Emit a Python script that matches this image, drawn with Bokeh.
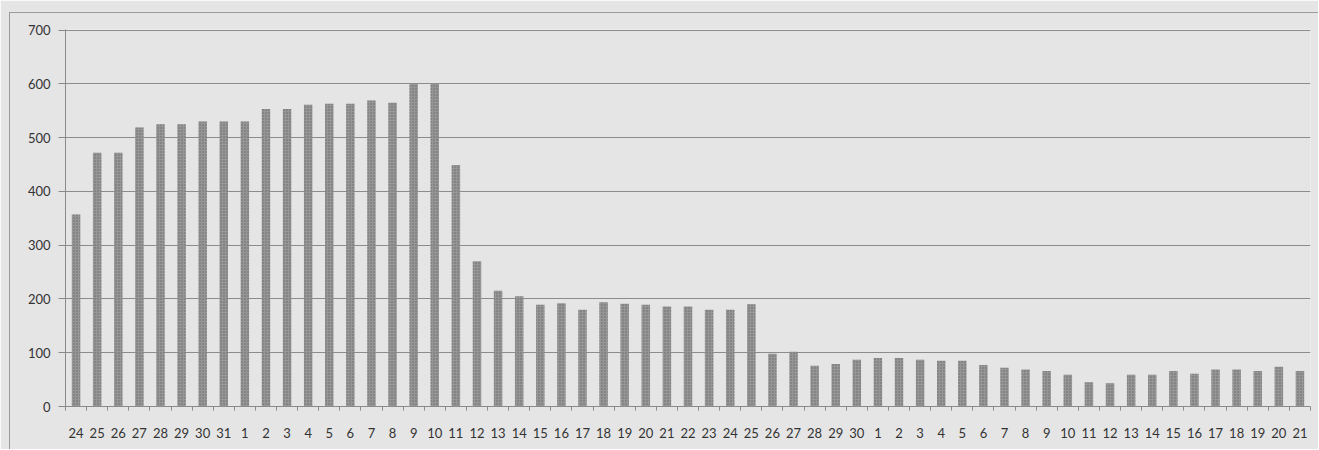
from bokeh.plotting import figure
from bokeh.models import FixedTicker, Range1d, InlineStyleSheet
from bokeh.embed import file_html
from bokeh.resources import INLINE

days = ["24", "25", "26", "27", "28", "29", "30", "31",
        "1", "2", "3", "4", "5", "6", "7", "8", "9", "10", "11", "12", "13", "14", "15",
        "16", "17", "18", "19", "20", "21", "22", "23", "24", "25", "26", "27", "28", "29", "30",
        "1", "2", "3", "4", "5", "6", "7", "8", "9", "10", "11", "12", "13", "14", "15",
        "16", "17", "18", "19", "20", "21"]
values = [357, 472, 472, 519, 525, 525, 530, 530,
          530, 553, 553, 561, 563, 563, 569, 565, 600, 600, 449, 270, 215, 205, 189,
          192, 180, 194, 191, 189, 186, 186, 180, 180, 190, 98, 102, 76, 79, 87,
          90, 90, 87, 85, 85, 77, 72, 69, 66, 59, 45, 43, 59, 59, 66,
          61, 69, 69, 66, 74, 66]
y_ticks = [0, 100, 200, 300, 400, 500, 600, 700]

n = len(days)
xs = [i + 0.5 for i in range(n)]

BG = "#e5e5e5"
TXT = "#333333"
GRID = "#8c8c8c"

frame_css = InlineStyleSheet(css="""
:host { position: relative; }
:host::after {
  content: "";
  position: absolute;
  left: 9px; top: 12px; right: 0px; bottom: 0px;
  border-top: 1px solid #9a9a9a;
  border-left: 1px solid #9a9a9a;
  z-index: 100;
  pointer-events: none;
}
""")

p = figure(width=1318, height=449, output_backend="svg", toolbar_location=None,
           x_range=Range1d(0, n), y_range=Range1d(0, 701),
           min_border_left=65, min_border_right=8, min_border_top=29, min_border_bottom=43,
           stylesheets=[frame_css])
p.background_fill_color = BG
p.border_fill_color = BG
p.outline_line_color = None

p.vbar(x=xs, top=values, width=0.4, bottom=0,
       fill_color="#969696", line_color=None,
       hatch_pattern="dot", hatch_color="#686868", hatch_scale=3, hatch_weight=1)

# x axis
p.xaxis.ticker = FixedTicker(ticks=xs, minor_ticks=list(range(n + 1)))
p.xaxis.major_label_overrides = {x: d for x, d in zip(xs, days)}
p.xaxis.major_tick_line_color = None
p.xaxis.major_tick_out = 0
p.xaxis.major_tick_in = 0
p.xaxis.minor_tick_out = 4
p.xaxis.minor_tick_in = 0
p.xaxis.minor_tick_line_color = "#8a8a8a"
p.xaxis.axis_line_color = "#8a8a8a"
p.xaxis.major_label_text_font = "Lato"
p.xaxis.major_label_text_font_size = "13px"
p.xaxis.major_label_text_color = TXT
p.xaxis.major_label_standoff = 17

# y axis
p.yaxis.ticker = FixedTicker(ticks=y_ticks, minor_ticks=[])
p.yaxis.major_tick_out = 7
p.yaxis.major_tick_in = 0
p.yaxis.major_tick_line_color = "#8a8a8a"
p.yaxis.axis_line_color = "#8a8a8a"
p.yaxis.major_label_text_font = "Lato"
p.yaxis.major_label_text_font_size = "13px"
p.yaxis.major_label_text_color = TXT
p.yaxis.major_label_standoff = 8

p.xgrid.grid_line_color = None
p.ygrid.grid_line_color = GRID
p.ygrid.grid_line_width = 1

open("out.html", "w").write(file_html(p, INLINE))
